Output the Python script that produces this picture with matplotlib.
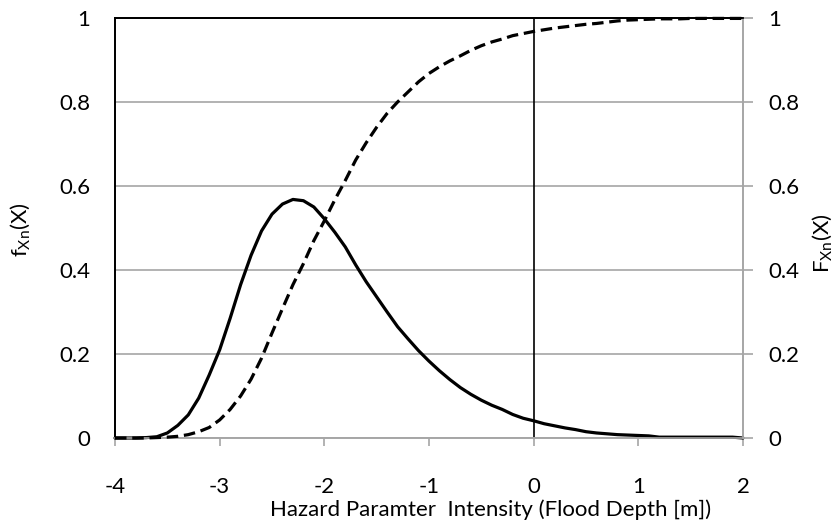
import matplotlib
matplotlib.use("Agg")
import matplotlib.pyplot as plt
import numpy as np

plt.rcParams['font.family'] = ['Lato', 'DejaVu Sans']
plt.rcParams['mathtext.default'] = 'regular'

x_vals = [-4.0, -3.9, -3.8, -3.7, -3.6, -3.5, -3.4, -3.3, -3.2, -3.1,
          -3.0, -2.9, -2.8, -2.7, -2.6, -2.5, -2.4, -2.3, -2.2, -2.1,
          -2.0, -1.9, -1.8, -1.7, -1.6, -1.5, -1.4, -1.3, -1.2, -1.1,
          -1.0, -0.9, -0.8, -0.7, -0.6, -0.5, -0.4, -0.3, -0.2, -0.1,
          0.0, 0.1, 0.2, 0.3, 0.4, 0.5, 0.6, 0.7, 0.8, 0.9,
          1.0, 1.1, 1.2, 1.3, 1.4, 1.5, 1.6, 1.7, 1.8, 1.9, 2.0]

pdf_vals = [0.000, 0.000, 0.000, 0.001, 0.003, 0.012, 0.030, 0.055, 0.095, 0.150,
            0.210, 0.285, 0.365, 0.435, 0.493, 0.533, 0.557, 0.568, 0.565, 0.550,
            0.522, 0.490, 0.455, 0.412, 0.372, 0.336, 0.300, 0.265, 0.236, 0.208,
            0.183, 0.160, 0.139, 0.120, 0.104, 0.090, 0.078, 0.068, 0.056, 0.047,
            0.041, 0.034, 0.029, 0.024, 0.020, 0.015, 0.012, 0.010, 0.008, 0.007,
            0.006, 0.005, 0.002, 0.002, 0.002, 0.002, 0.002, 0.002, 0.002, 0.002, 0.000]

cdf_vals = [0.000, 0.000, 0.000, 0.000, 0.001, 0.002, 0.004, 0.008, 0.015, 0.025,
            0.043, 0.068, 0.100, 0.140, 0.190, 0.250, 0.308, 0.365, 0.415, 0.470,
            0.517, 0.567, 0.613, 0.662, 0.703, 0.740, 0.773, 0.800, 0.824, 0.848,
            0.868, 0.884, 0.898, 0.910, 0.923, 0.934, 0.943, 0.950, 0.958, 0.963,
            0.968, 0.972, 0.976, 0.979, 0.982, 0.985, 0.987, 0.990, 0.993, 0.995,
            0.996, 0.997, 0.998, 0.998, 0.998, 0.999, 0.999, 0.999, 0.999, 0.999, 0.999]

x_ticks = [-4, -3, -2, -1, 0, 1, 2]
x_ticklabels = ['-4', '-3', '-2', '-1', '0', '1', '2']
y_ticks = [0, 0.2, 0.4, 0.6, 0.8, 1.0]
y_ticklabels = ['0', '0.2', '0.4', '0.6', '0.8', '1']

FS = 16
grid_gray = '#a6a6a6'
fig = plt.figure(figsize=(8.36, 5.22), dpi=100)
ax = fig.add_axes([115/836, 1-438/522, (743-115)/836, (438-18)/522])
ax2 = ax.twinx()

for a in (ax, ax2):
    a.set_xlim(-4, 2)
    a.set_ylim(0, 1)

ax.set_yticks(y_ticks)
ax.set_yticklabels(y_ticklabels, fontsize=FS)
ax.yaxis.grid(True, color=grid_gray, linewidth=1.2)
ax.set_axisbelow(True)
ax.tick_params(axis='y', length=0, pad=18)
ax.set_xticks(x_ticks)
ax.set_xticklabels(x_ticklabels, fontsize=FS)
ax.tick_params(axis='x', direction='out', length=6, width=1.2, color=grid_gray, pad=22)

ax2.set_yticks(y_ticks)
ax2.set_yticklabels(y_ticklabels, fontsize=FS)
ax2.tick_params(axis='y', direction='out', length=7, width=1.2, color=grid_gray, pad=11)

for a in (ax, ax2):
    a.spines['left'].set_color('black')
    a.spines['left'].set_linewidth(1.3)
    a.spines['top'].set_color('black')
    a.spines['top'].set_linewidth(1.3)
    a.spines['right'].set_color(grid_gray)
    a.spines['right'].set_linewidth(1.2)
    a.spines['bottom'].set_color(grid_gray)
    a.spines['bottom'].set_linewidth(1.2)

ax.axvline(0, color='black', linewidth=1.2, zorder=1.5)

ax.plot(x_vals, pdf_vals, color='black', linewidth=2.3, solid_capstyle='round',
        solid_joinstyle='round', zorder=3, clip_on=False)
ax2.plot(x_vals, cdf_vals, color='black', linewidth=2.3, linestyle=(0, (3.6, 1.8)),
         dash_capstyle='butt', zorder=3, clip_on=False)

fig.text(491/836, 1-510/522, 'Hazard Paramter  Intensity (Flood Depth [m])',
         ha='center', va='center', fontsize=FS)
fig.text(20/836, 1-230/522, r'f$_{Xn}$(X)', rotation=90, ha='center', va='center', fontsize=FS)
fig.text(822/836, 1-243/522, r'F$_{Xn}$(X)', rotation=90, ha='center', va='center', fontsize=FS)

fig.savefig('out.png', dpi=100)
